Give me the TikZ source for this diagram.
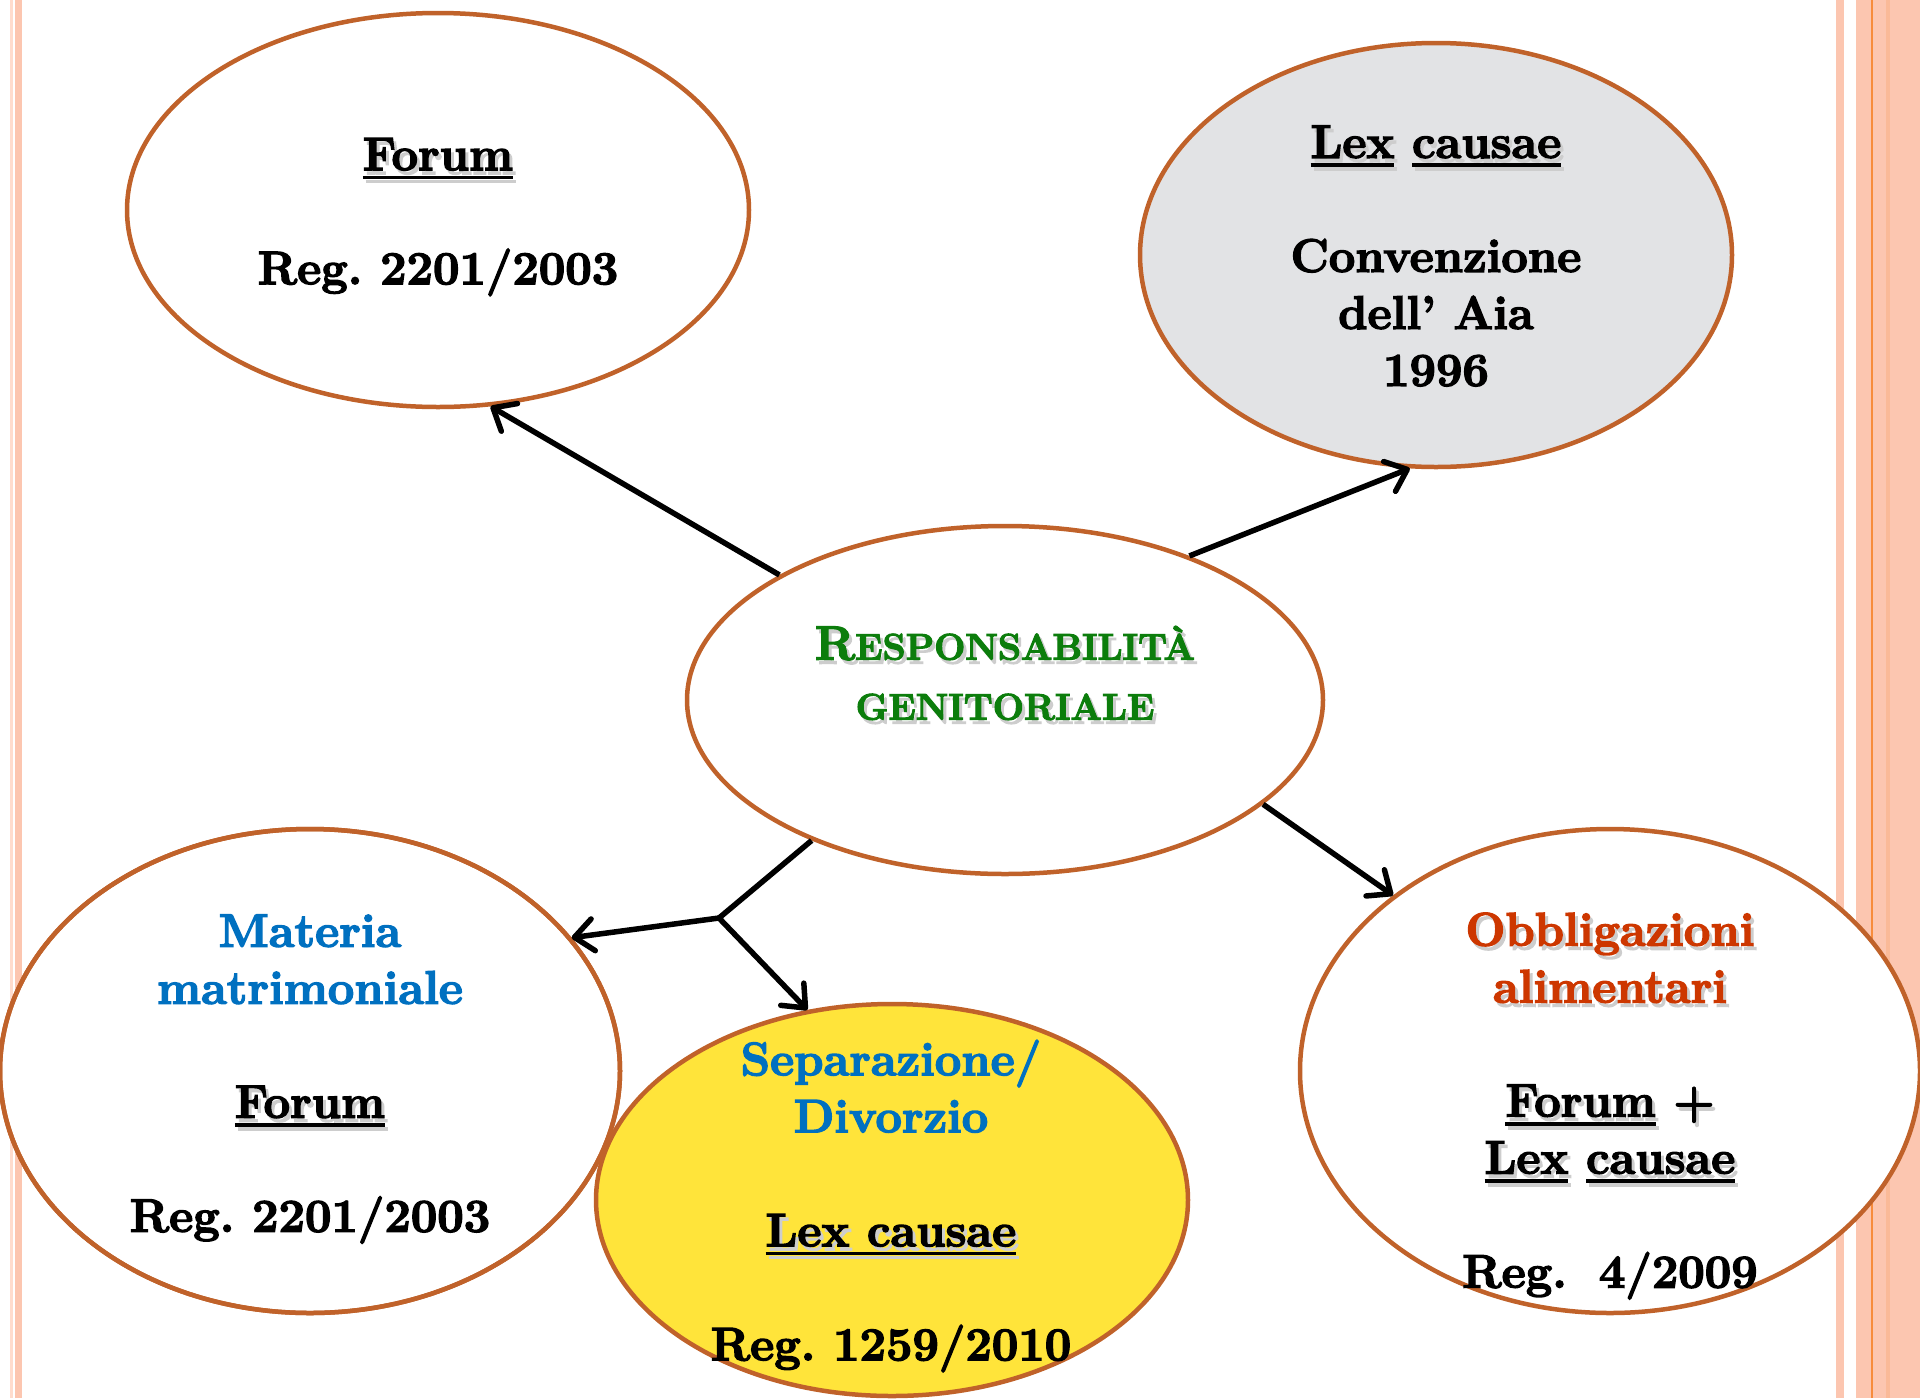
\documentclass[tikz,border=0pt]{standalone}
\usepackage{fontspec}
\setmainfont{Latin Modern Roman}[BoldFeatures={FakeBold=3}]
\usetikzlibrary{shapes.geometric,arrows.meta}
\definecolor{outl}{RGB}{192,98,42}
\definecolor{stripeA}{RGB}{252,198,176}
\definecolor{stripeL}{RGB}{255,220,205}
\definecolor{stripeO}{RGB}{247,140,60}
\definecolor{stripeD}{RGB}{250,186,152}
\definecolor{grayF}{RGB}{226,227,229}
\definecolor{yellowF}{RGB}{255,228,58}
\definecolor{blueT}{RGB}{0,112,192}
\definecolor{redT}{RGB}{205,55,0}
\definecolor{greenT}{RGB}{12,125,12}
\definecolor{shadowc}{RGB}{205,205,205}
\newcommand\myul[1]{\setbox0\hbox{#1}\rlap{\rule[-9pt]{\wd0}{3.5pt}}\box0\relax}
\newcommand\shd[1]{\leavevmode\rlap{\hspace{3pt}\raisebox{-4pt}{\color{shadowc}#1}}#1}
\tikzset{
  ell/.style={ellipse, draw=outl, line width=4.5pt, fill=white, inner sep=0pt},
  arr/.style={line width=5.5pt, -{Straight Barb[length=19pt,width=32pt,round]}},
  conn/.style={line width=5.5pt},
  txt/.style={align=center, inner sep=0pt, font=\bfseries\fontsize{47}{57}\selectfont\frenchspacing},
}
\begin{document}
\begin{tikzpicture}[x=1pt,y=-1pt]
\useasboundingbox (0,0) rectangle (1920,1398);
% border stripes
\fill[stripeL] (10,0) rectangle (12.5,1398);
\fill[stripeA] (15,0) rectangle (22,1398);
\fill[stripeA] (1836,0) rectangle (1844,1398);
\fill[stripeA] (1856,0) rectangle (1920,1398);
\fill[stripeD] (1886,0) rectangle (1890,1398);
\fill[stripeO] (1871,0) rectangle (1873,1398);
% ellipses
\node[ell, minimum width=622pt, minimum height=394pt] (tl) at (438,210) {};
\node[ell, fill=grayF, minimum width=592pt, minimum height=424pt] (tr) at (1436,255) {};
\node[ell, minimum width=636pt, minimum height=348pt] (c) at (1005,700) {};
\node[ell, minimum width=620pt, minimum height=484pt] (bl) at (310,1071) {};
\node[ell, fill=yellowF, minimum width=592pt, minimum height=392pt] (ye) at (892,1200) {};
\draw[draw=outl, line width=4.5pt] (bl.center) ellipse [x radius=310pt, y radius=242pt];
\node[ell, minimum width=620pt, minimum height=484pt] (br) at (1610,1071) {};
% connectors
\coordinate (j) at (719,918);
\draw[arr] (c.151.4) -- (tl.285.3);
\draw[arr] (c.38.2) -- (tr.263.5);
\draw[arr] (c.338.9) -- (br.141.8);
\draw[conn, line join=round] (c.216.4) -- (j);
\draw[arr] (j) -- (bl.27.7);
\draw[arr] (j) -- (ye.114);
% texts
\node[txt] (tlt) at (438,217) {\shd{\myul{Forum}}\\[57pt]Reg. 2201/2003};
\node[txt] (trt) at (1436,256) {\shd{\myul{Lex}\ \myul{causae}}\\[57pt]Convenzione\\dell’ Aia\\1996};
\node[txt, text=greenT, font=\bfseries\fontsize{37}{60}\selectfont] (ct) at (1005,675)
  {\shd{{\fontsize{48}{60}\selectfont R}ESPONSABILITÀ}\\\shd{GENITORIALE}};
\node[txt] (blt) at (310,1079) {\textcolor{blueT}{Materia}\\\textcolor{blueT}{matrimoniale}\\[57pt]\shd{\myul{Forum}}\\[57pt]Reg. 2201/2003};
\node[txt] (yet) at (891,1206) {\textcolor{blueT}{Separazione/}\\\textcolor{blueT}{Divorzio}\\[57pt]\shd{\myul{Lex causae}}\\[57pt]Reg. 1259/2010};
\node[txt] (brt) at (1610,1106) {\textcolor{redT}{\shd{Obbligazioni}}\\\textcolor{redT}{\shd{alimentari}}\\[57pt]\shd{\myul{Forum} +}\\\shd{\myul{Lex} \myul{causae}}\\[57pt]Reg.\hspace{32pt}4/2009};
\end{tikzpicture}
\end{document}
